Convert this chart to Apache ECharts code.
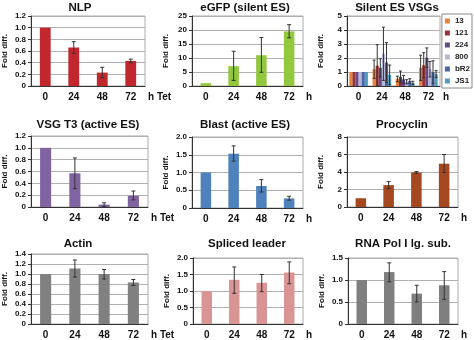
<!DOCTYPE html>
<html><head><meta charset="utf-8">
<script src="https://cdn.jsdelivr.net/npm/echarts@6/dist/echarts.min.js"></script>
<style>html,body{margin:0;padding:0;background:#fff}#c{width:474px;height:340px}</style>
</head><body><div id="c"></div>
<script>
const categories = ['0', '24', '48', '72'];

const nlpValues = [1.0, 0.66, 0.23, 0.43];
const nlpLow = [1.0, 0.56, 0.14, 0.40];
const nlpHigh = [1.0, 0.76, 0.32, 0.46];

const egfpValues = [1.0, 7.1, 11.0, 19.5];
const egfpLow = [1.0, 2.0, 4.9, 17.2];
const egfpHigh = [1.0, 12.4, 17.3, 21.9];

const vsgNames = ['13', '121', '224', '800', 'bR2', 'JS1'];
const vsg13 = [1, 1.2, 0.5, 1.3];
const vsg13Err = [0, 0.65, 0.2, 0.9];
const vsg121 = [1, 1.45, 0.65, 1.48];
const vsg121Err = [0, 1.5, 0.42, 0.9];
const vsg224 = [1, 1.3, 0.48, 2.02];
const vsg224Err = [0, 0.65, 0.28, 0.7];
const vsg800 = [1, 2.3, 0.3, 1.2];
const vsg800Err = [0, 1.9, 0.15, 0.55];
const vsgBR2 = [1, 1.68, 0.36, 1.0];
const vsgBR2Err = [0, 1.42, 0.16, 0.8];
const vsgJS1 = [1, 0.8, 0.22, 0.85];
const vsgJS1Err = [0, 0.7, 0.12, 0.25];

const t3Values = [1.0, 0.57, 0.04, 0.19];
const t3Low = [1.0, 0.31, 0.01, 0.12];
const t3High = [1.0, 0.83, 0.07, 0.27];

const blastValues = [1.0, 1.53, 0.62, 0.27];
const blastLow = [1.0, 1.32, 0.45, 0.22];
const blastHigh = [1.0, 1.75, 0.80, 0.33];

const procValues = [1.0, 2.5, 3.95, 4.95];
const procLow = [1.0, 2.1, 3.85, 3.95];
const procHigh = [1.0, 2.9, 4.05, 6.0];

const actinValues = [1.0, 1.11, 1.0, 0.83];
const actinLow = [1.0, 0.94, 0.9, 0.77];
const actinHigh = [1.0, 1.28, 1.09, 0.89];

const slValues = [1.0, 1.34, 1.25, 1.56];
const slLow = [1.0, 0.93, 0.98, 1.22];
const slHigh = [1.0, 1.73, 1.5, 1.88];

const polValues = [1.0, 1.18, 0.69, 0.88];
const polLow = [1.0, 0.96, 0.5, 0.56];
const polHigh = [1.0, 1.39, 0.88, 1.19];

const FONT = 'Liberation Sans, Arial, sans-serif';

const panels = [
  {title: 'NLP', tx: 80, ty: 2, grid: {left: 30, top: 16, width: 115, height: 70}, max: 1.2, interval: 0.2, dec: 1, xname: 'h Tet', color: '#C1272D', v: nlpValues, lo: nlpLow, hi: nlpHigh},
  {title: 'eGFP (silent ES)', tx: 245, ty: 2, grid: {left: 192, top: 16, width: 111, height: 70}, max: 25, interval: 5, dec: 0, xname: 'h', color: '#92C83E', v: egfpValues, lo: egfpLow, hi: egfpHigh},
  {title: 'Silent ES VSGs', tx: 397, ty: 2, grid: {left: 347, top: 16, width: 93, height: 70}, max: 5, interval: 1, dec: 0, xname: 'h', multi: true},
  {title: 'VSG T3 (active ES)', tx: 88, ty: 119, grid: {left: 30, top: 136, width: 118, height: 71}, max: 1.2, interval: 0.2, dec: 1, xname: 'h Tet', color: '#8064A2', v: t3Values, lo: t3Low, hi: t3High},
  {title: 'Blast (active ES)', tx: 245, ty: 119, grid: {left: 192, top: 137, width: 111, height: 71}, max: 2, interval: 0.5, dec: 1, xname: 'h', color: '#4F81BD', v: blastValues, lo: blastLow, hi: blastHigh},
  {title: 'Procyclin', tx: 402, ty: 119, grid: {left: 347, top: 137, width: 111, height: 70}, max: 8, interval: 2, dec: 0, xname: 'h', color: '#A5471F', v: procValues, lo: procLow, hi: procHigh},
  {title: 'Actin', tx: 78, ty: 238, grid: {left: 31, top: 254, width: 117, height: 70}, max: 1.4, interval: 0.2, dec: 1, xname: 'h Tet', color: '#808080', v: actinValues, lo: actinLow, hi: actinHigh},
  {title: 'Spliced leader', tx: 247, ty: 238, grid: {left: 193, top: 258, width: 110, height: 68}, max: 2, interval: 0.5, dec: 1, xname: 'h', color: '#D99594', v: slValues, lo: slLow, hi: slHigh},
  {title: 'RNA Pol I lg. sub.', tx: 403, ty: 238, grid: {left: 348, top: 258, width: 110, height: 67}, max: 1.5, interval: 0.5, dec: 1, xname: 'h', color: '#7F7F7F', v: polValues, lo: polLow, hi: polHigh}
];

const vsgSets = [
  {v: vsg13, e: vsg13Err, c: '#E8833A'},
  {v: vsg121, e: vsg121Err, c: '#9B3430'},
  {v: vsg224, e: vsg224Err, c: '#64488A'},
  {v: vsg800, e: vsg800Err, c: '#B4B6DA'},
  {v: vsgBR2, e: vsgBR2Err, c: '#4A64A4'},
  {v: vsgJS1, e: vsgJS1Err, c: '#4E9EBE'}
];

function errRender(nBars, gap) {
  return function (params, api) {
    const x = api.value(0);
    const lo = api.coord([x, api.value(1)]);
    const hi = api.coord([x, api.value(2)]);
    const band = api.size([1, 0])[0];
    const k = api.value(3);
    const bw = band * (1 - gap) / nBars;
    const cx = lo[0] + (k - (nBars - 1) / 2) * bw;
    const cap = nBars > 1 ? 1.5 : 2;
    const st = {stroke: '#333', lineWidth: 1};
    return {type: 'group', children: [
      {type: 'line', shape: {x1: cx, y1: lo[1], x2: cx, y2: hi[1]}, style: st},
      {type: 'line', shape: {x1: cx - cap, y1: hi[1], x2: cx + cap, y2: hi[1]}, style: st},
      {type: 'line', shape: {x1: cx - cap, y1: lo[1], x2: cx + cap, y2: lo[1]}, style: st}
    ]};
  };
}

const option = {animation: false, backgroundColor: '#fff', title: [], grid: [], xAxis: [], yAxis: [], series: [], legend: {
  data: vsgNames, orient: 'vertical', right: 2, top: 14, itemWidth: 5, itemHeight: 5, itemGap: 4,
  icon: 'rect', borderColor: '#888', borderWidth: 1, padding: [3, 2, 3, 3],
  textStyle: {fontFamily: FONT, fontSize: 8, fontWeight: 'bold', color: '#222', width: 15, align: 'right'}
}};

panels.forEach((p, i) => {
  option.title.push({text: p.title, left: p.tx, top: p.ty, textAlign: 'center', padding: 0,
    textStyle: {fontFamily: FONT, fontSize: 11.5, fontWeight: 'bold', color: '#111'}});
  option.grid.push(Object.assign({show: true, borderColor: '#aaa', borderWidth: 1}, p.grid));
  option.xAxis.push({type: 'category', gridIndex: i, data: categories,
    name: p.xname, nameLocation: 'end', nameGap: 3,
    nameTextStyle: {fontFamily: FONT, fontSize: 10, fontWeight: 'bold', color: '#111', verticalAlign: 'top', padding: [6, 0, 0, 0]},
    axisLine: {lineStyle: {color: '#333'}}, axisTick: {alignWithLabel: false, length: 3, lineStyle: {color: '#333'}},
    axisLabel: {fontFamily: FONT, fontSize: 10, fontWeight: 'bold', color: '#111', margin: 6}});
  option.yAxis.push({type: 'value', gridIndex: i, min: 0, max: p.max, interval: p.interval,
    name: 'Fold diff.', nameLocation: 'middle', nameGap: 22,
    nameTextStyle: {fontFamily: FONT, fontSize: 8, fontWeight: 'bold', color: '#111'},
    axisLine: {show: true, lineStyle: {color: '#333'}}, axisTick: {show: true, length: 3, lineStyle: {color: '#333'}},
    splitLine: {lineStyle: {color: '#b0b0b0'}},
    axisLabel: {fontFamily: FONT, fontSize: 8, fontWeight: 'bold', color: '#111', margin: 5,
      formatter: v => v === 0 ? '0' : v.toFixed(p.dec)}});
  if (p.multi) {
    const gap = 0.2;
    vsgSets.forEach((s, k) => {
      option.series.push({type: 'bar', name: vsgNames[k], xAxisIndex: i, yAxisIndex: i, data: s.v,
        itemStyle: {color: s.c}, barGap: '0%', barCategoryGap: (gap * 100) + '%'});
    });
    vsgSets.forEach((s, k) => {
      const d = [];
      s.v.forEach((val, j) => { if (s.e[j] > 0) d.push([j, val - s.e[j] < 0 ? 0 : val - s.e[j], val + s.e[j], k]); });
      option.series.push({type: 'custom', xAxisIndex: i, yAxisIndex: i, renderItem: errRender(6, gap), data: d, z: 5});
    });
  } else {
    const gap = 0.62;
    option.series.push({type: 'bar', xAxisIndex: i, yAxisIndex: i, data: p.v, itemStyle: {color: p.color},
      barCategoryGap: (gap * 100) + '%'});
    const d = [];
    p.v.forEach((val, j) => { if (p.hi[j] !== p.lo[j]) d.push([j, p.lo[j], p.hi[j], 0]); });
    option.series.push({type: 'custom', xAxisIndex: i, yAxisIndex: i, renderItem: errRender(1, gap), data: d, z: 5});
  }
});

const chart = echarts.init(document.getElementById('c'), null, {renderer: 'canvas'});
chart.setOption(option);
</script></body></html>
